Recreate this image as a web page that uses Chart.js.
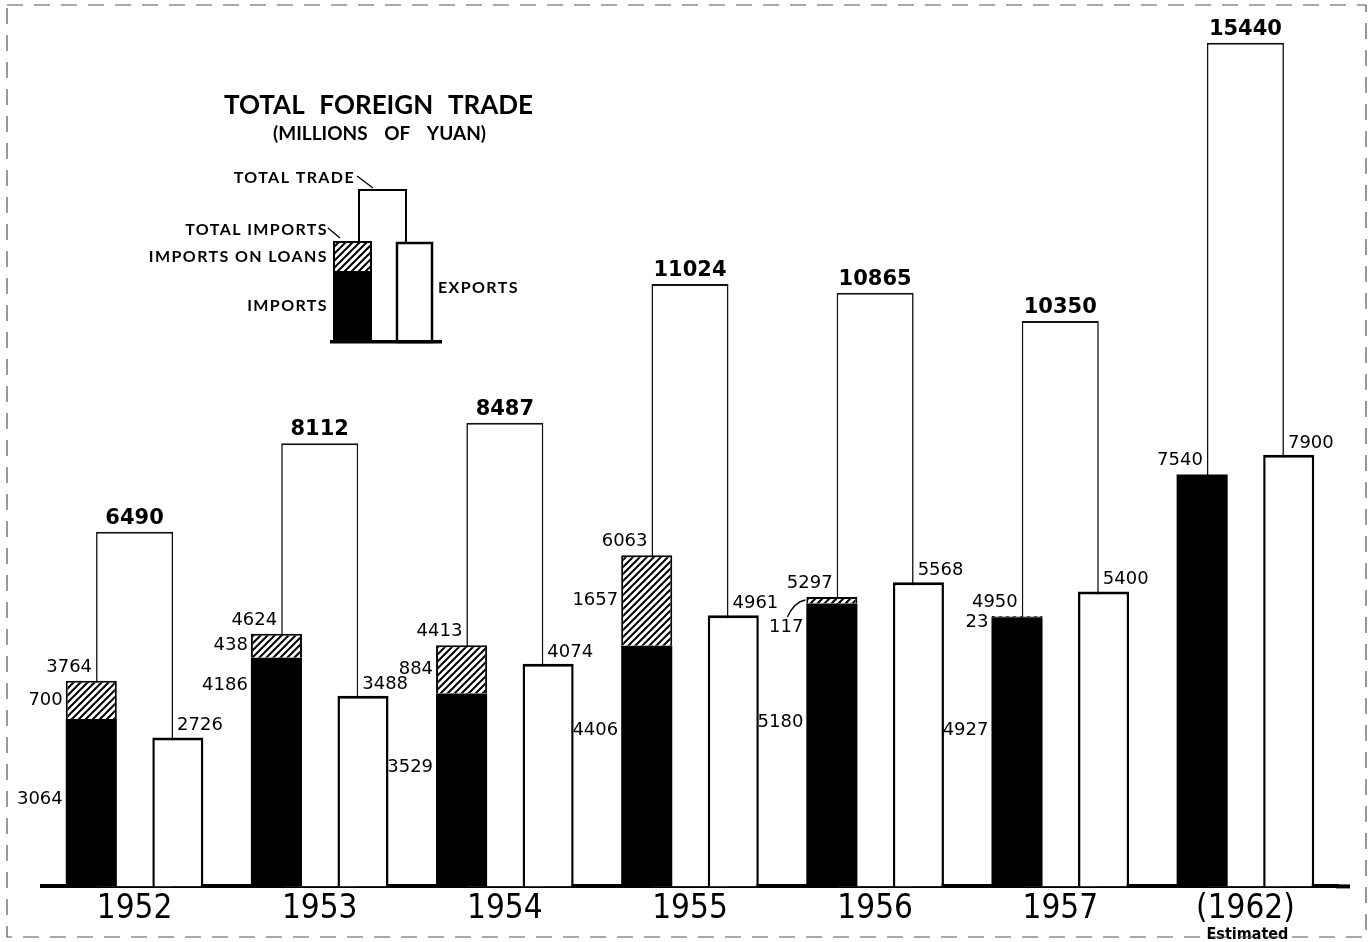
<!DOCTYPE html>
<html>
<head>
<meta charset="utf-8">
<title>Total Foreign Trade</title>
<script src="https://cdn.jsdelivr.net/npm/chart.js@4"></script>
<style>
  html, body { margin: 0; padding: 0; background: #fff; }
  canvas { display: block; }
</style>
</head>
<body>
<canvas id="trade" width="1372" height="942"></canvas>
<script>
// values in millions of yuan
const years = ["1952", "1953", "1954", "1955", "1956", "1957", "(1962)"];
const totalTrade = [6490, 8112, 8487, 11024, 10865, 10350, 15440];
const totalImports = [3764, 4624, 4413, 6063, 5297, 4950, 7540];
const loanImports = [700, 438, 884, 1657, 117, 23, 0];
const ownImports = [3064, 4186, 3529, 4406, 5180, 4927, 7540];
const exportsValues = [2726, 3488, 4074, 4961, 5568, 5400, 7900];

// where the side labels sit (layout only)
const ownLabelFrac = [0.48, 0.12, 0.38, 0.35, 0.42, 0.42, 0];
const loanLabelDrop = [0, 0, 0, 0, 27, 6, 0];

const NUM_FONT = '18px "DejaVu Sans"';
const TOTAL_FONT = 'bold 21px "DejaVu Sans"';

function makeHatch() {
  const s = 7;
  const c = document.createElement("canvas");
  c.width = s;
  c.height = s;
  const g = c.getContext("2d");
  g.fillStyle = "#fff";
  g.fillRect(0, 0, s, s);
  g.strokeStyle = "#000";
  g.lineWidth = 2;
  g.beginPath();
  g.moveTo(0, s); g.lineTo(s, 0);
  g.moveTo(-1, 1); g.lineTo(1, -1);
  g.moveTo(s - 1, s + 1); g.lineTo(s + 1, s - 1);
  g.stroke();
  return g.createPattern(c, "repeat");
}

const ctx0 = document.getElementById("trade").getContext("2d");
const hatch = makeHatch();

// spread words so the line fills a given width
function justified(ctx, text, left, right, y) {
  const words = text.split(" ");
  const widths = words.map(w => ctx.measureText(w).width);
  const used = widths.reduce((a, b) => a + b, 0);
  const gap = words.length > 1 ? (right - left - used) / (words.length - 1) : 0;
  let x = left;
  ctx.textAlign = "left";
  words.forEach((w, i) => {
    ctx.fillText(w, x, y);
    x += widths[i] + gap;
  });
}

const labelPlugin = {
  id: "tradeLabels",
  afterDatasetsDraw(chart) {
    const ctx = chart.ctx;
    const impMeta = chart.getDatasetMeta(0);
    const loanMeta = chart.getDatasetMeta(1);
    const expMeta = chart.getDatasetMeta(2);
    const totMeta = chart.getDatasetMeta(3);

    ctx.save();
    ctx.fillStyle = "#000";
    ctx.strokeStyle = "#000";

    years.forEach((yr, i) => {
      const imp = impMeta.data[i];
      const loan = loanMeta.data[i];
      const exp = expMeta.data[i];
      const tot = totMeta.data[i];
      const hasLoan = loanImports[i] > 0;
      const totLeft = tot.x - tot.width / 2;
      const totRight = tot.x + tot.width / 2;
      const impLeft = imp.x - imp.width / 2;
      const impTop = hasLoan ? loan.y : imp.y;

      ctx.textBaseline = "alphabetic";
      ctx.font = TOTAL_FONT;
      ctx.textAlign = "center";
      ctx.fillText(String(totalTrade[i]), tot.x, tot.y - 8);

      ctx.font = NUM_FONT;
      ctx.textAlign = "right";
      ctx.fillText(String(totalImports[i]), totLeft - 4, impTop - 9);
      ctx.textAlign = "left";
      ctx.fillText(String(exportsValues[i]), totRight + 4, exp.y - 7);

      if (hasLoan) {
        ctx.textAlign = "right";
        ctx.textBaseline = "middle";
        const loanMid = (loan.y + loan.base) / 2 + loanLabelDrop[i];
        ctx.fillText(String(loanImports[i]), impLeft - 3, loanMid);
        ctx.fillText(String(ownImports[i]), impLeft - 3,
          imp.y + ownLabelFrac[i] * (imp.base - imp.y));

        // thin loan slice: small curved pointer
        if (loanLabelDrop[i] > 15) {
          ctx.lineWidth = 1.3;
          ctx.beginPath();
          ctx.moveTo(impLeft - 19, loan.y + 20);
          ctx.quadraticCurveTo(impLeft - 12, loan.y + 5, impLeft - 1, loan.y + 3);
          ctx.stroke();
        }
      }
    });

    // baseline runs a little past the last bar
    const area = chart.chartArea;
    ctx.fillRect(area.right - 2, area.bottom - 2, 14, 4);

    // note under the last year
    const xs = chart.scales.x;
    ctx.font = 'bold 16px "Liberation Sans Narrow", "DejaVu Sans Condensed", sans-serif';
    ctx.textAlign = "center";
    ctx.textBaseline = "alphabetic";
    ctx.fillText("Estimated", xs.getPixelForTick(6) + 2, 939);

    ctx.restore();
  },
  afterDraw(chart) {
    const ctx = chart.ctx;
    ctx.save();
    ctx.fillStyle = "#000";
    ctx.strokeStyle = "#000";

    // title
    ctx.textBaseline = "alphabetic";
    ctx.font = 'bold 26px "Lato"';
    justified(ctx, "TOTAL FOREIGN TRADE", 224, 533, 114);
    ctx.font = 'bold 19px "Lato"';
    justified(ctx, "(MILLIONS OF YUAN)", 273, 486, 140);

    // key
    ctx.lineWidth = 2;
    ctx.fillStyle = "#fff";
    ctx.fillRect(358, 189, 49, 152);
    ctx.strokeRect(359, 190, 47, 152);

    ctx.fillStyle = hatch;
    ctx.fillRect(333, 241, 39, 30);
    ctx.fillStyle = "#000";
    ctx.fillRect(333, 271, 39, 70);
    ctx.strokeRect(334, 242, 37, 99);

    ctx.fillStyle = "#fff";
    ctx.fillRect(396, 242, 37, 99);
    ctx.lineWidth = 2.5;
    ctx.strokeRect(397, 243, 35, 99);

    ctx.fillStyle = "#000";
    ctx.fillRect(330, 340, 112, 3.5);

    ctx.font = 'bold 16px "Lato"';
    ctx.letterSpacing = "1.4px";
    ctx.textAlign = "right";
    ctx.fillText("TOTAL TRADE", 355, 183);
    ctx.fillText("TOTAL IMPORTS", 328, 235);
    ctx.fillText("IMPORTS ON LOANS", 328, 262);
    ctx.fillText("IMPORTS", 328, 311);
    ctx.textAlign = "left";
    ctx.fillText("EXPORTS", 438, 293);
    ctx.letterSpacing = "0px";

    ctx.lineWidth = 1.3;
    ctx.beginPath();
    ctx.moveTo(357, 176); ctx.lineTo(373, 188);
    ctx.moveTo(328, 228); ctx.lineTo(340, 238);
    ctx.stroke();

    // scanned page frame
    ctx.strokeStyle = "#555";
    ctx.lineWidth = 1.2;
    ctx.setLineDash([16, 11]);
    ctx.strokeRect(7, 5, 1359, 932);
    ctx.restore();
  }
};

new Chart(ctx0, {
  type: "bar",
  data: {
    labels: years,
    datasets: [
      {
        label: "Imports",
        data: ownImports,
        stack: "imp",
        backgroundColor: "#000",
        borderWidth: 0,
        categoryPercentage: 0.935,
        barPercentage: 0.59,
        order: 1,
      },
      {
        label: "Imports on loans",
        data: loanImports.map(v => (v > 0 ? v : null)),
        stack: "imp",
        backgroundColor: hatch,
        borderColor: "#000",
        borderWidth: { top: 2, left: 2, right: 2, bottom: 0 },
        borderSkipped: "start",
        categoryPercentage: 0.935,
        barPercentage: 0.59,
        order: 1,
      },
      {
        label: "Exports",
        data: exportsValues,
        stack: "exp",
        backgroundColor: "#fff",
        borderColor: "#000",
        borderWidth: { top: 3, left: 2.5, right: 2.5, bottom: 0 },
        categoryPercentage: 0.935,
        barPercentage: 0.59,
        order: 1,
      },
      {
        label: "Total trade",
        data: totalTrade,
        stack: "tot",
        grouped: false,
        backgroundColor: "#fff",
        borderColor: "#111",
        borderWidth: { top: 2, left: 1.6, right: 1.6, bottom: 0 },
        categoryPercentage: 1,
        barPercentage: 0.416,
        order: 2,
      },
    ],
  },
  options: {
    responsive: false,
    animation: false,
    layout: { padding: { left: 42, right: 34, top: 15, bottom: 10 } },
    plugins: {
      legend: { display: false },
      tooltip: { enabled: false },
    },
    scales: {
      x: {
        stacked: true,
        grid: { display: false, drawTicks: false },
        border: { display: true, color: "#000", width: 4 },
        ticks: {
          color: "#000",
          padding: 3,
          font: { family: '"Liberation Sans Narrow", "DejaVu Sans Condensed", sans-serif', size: 33 },
        },
      },
      y: {
        display: false,
        stacked: true,
        min: 0,
        max: 15950,
      },
    },
  },
  plugins: [labelPlugin],
});
</script>
</body>
</html>
